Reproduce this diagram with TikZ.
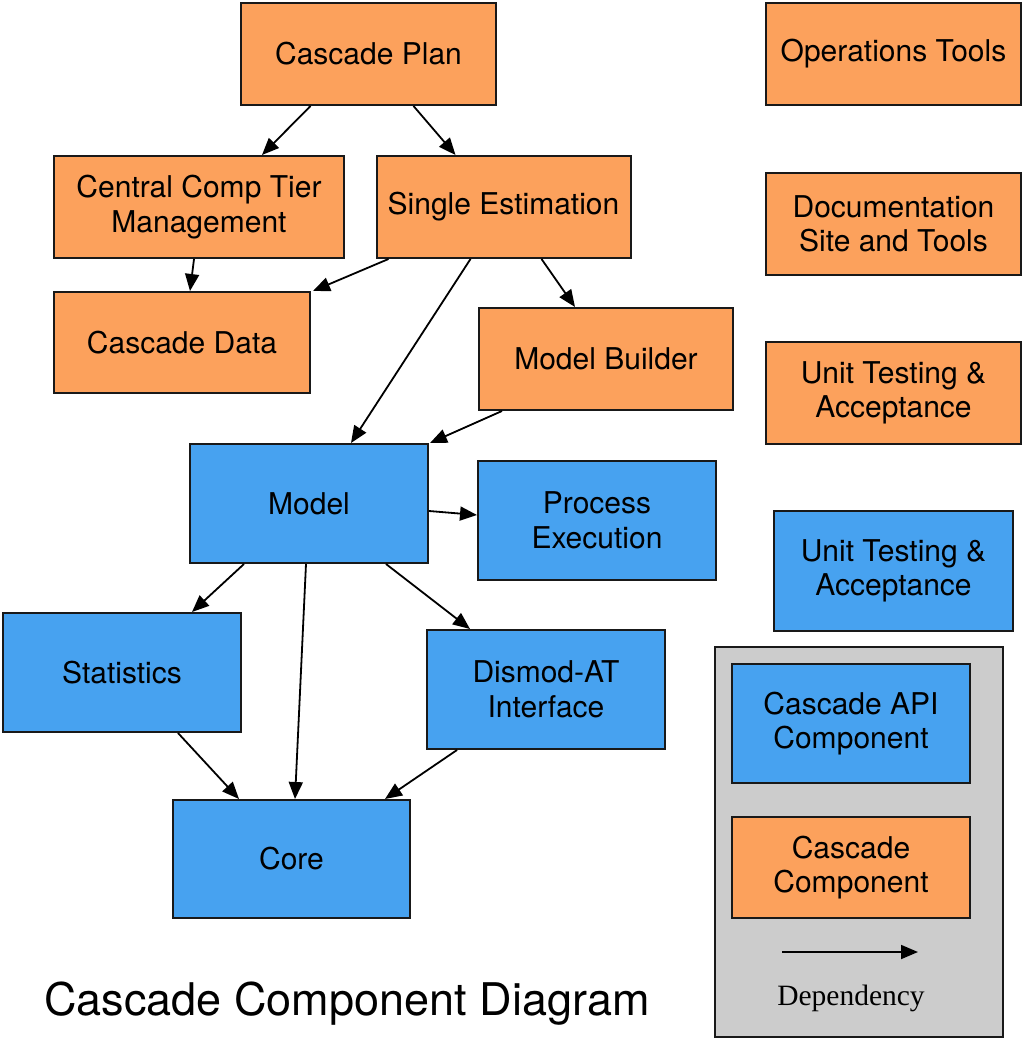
\documentclass[tikz,border=0pt]{standalone}
\usepackage{fontspec}
\setmainfont{TeX Gyre Heros}
\newfontfamily\depfont{Liberation Serif}
\usetikzlibrary{arrows.meta}
\definecolor{orng}{HTML}{FCA15C}
\definecolor{blu}{HTML}{47A2F0}
\definecolor{gry}{HTML}{CCCCCC}
\begin{document}
\begin{tikzpicture}[x=1pt,y=-1pt,
  box/.style={draw=black!90,line width=2pt,align=center,inner sep=0pt,
    font=\fontsize{30}{34.5}\selectfont},
  ob/.style={box,fill=orng,minimum width=255pt,minimum height=102pt},
  bb/.style={box,fill=blu,minimum width=238pt,minimum height=119pt},
  dep/.style={draw=black,line width=1.8pt,-{Triangle[length=17pt,width=14pt]}}]
\useasboundingbox (0,0) rectangle (1024,1043);
% orange components
\node[ob] (plan) at (368.5,54) {Cascade Plan};
\node[ob] (ops) at (893.5,54) {Operations Tools};
\node[ob,minimum width=290pt] (central) at (199,207) {Central Comp Tier\\Management};
\node[ob,minimum width=254pt] (single) at (503.5,207) {Single Estimation};
\node[ob] (doc) at (893.5,224) {Documentation\\Site and Tools};
\node[ob,minimum width=256pt,minimum height=101pt] (data) at (182,342.5) {Cascade Data};
\node[ob,minimum width=254pt] (builder) at (606,359) {Model Builder};
\node[ob] (uto) at (893.5,393) {Unit Testing \&\\Acceptance};
% blue components
\node[bb] (model) at (309,503.5) {Model};
\node[bb] (process) at (597,520.5) {Process\\Execution};
\node[bb,minimum width=239pt,minimum height=120pt] (utb) at (893.5,571) {Unit Testing \&\\Acceptance};
\node[bb] (stats) at (122,672.5) {Statistics};
\node[bb] (dismod) at (546,689.5) {Dismod-AT\\Interface};
\node[bb,minimum width=237pt,minimum height=118pt] (core) at (291.5,859) {Core};
% legend
\node[draw=black!90,line width=2pt,fill=gry,minimum width=288pt,minimum height=390pt,inner sep=0pt] (legend) at (859,842) {};
\node[bb] (api) at (851,723.5) {Cascade API\\Component};
\node[ob,minimum width=238pt,minimum height=101pt] (comp) at (851,867.5) {Cascade\\Component};
\coordinate (la) at (782,952);
\coordinate (lb) at (918,952);
\draw[dep] (la) -- (lb);
\node[font=\depfont\fontsize{29.5}{34}\selectfont] (deplabel) at (851,998) {Dependency};
% title
\node[font=\fontsize{45}{52}\selectfont] (title) at (347,1004) {Cascade Component Diagram};
% dependencies
\draw[dep] ([xshift=-58pt]plan.south) -- ([xshift=63pt]central.north);
\draw[dep] ([xshift=45pt]plan.south) -- ([xshift=-48pt]single.north);
\draw[dep] ([xshift=-5pt]central.south) -- ([xshift=8pt]data.north);
\draw[dep] ([xshift=-115pt]single.south) -- ([xshift=2pt]data.north east);
\draw[dep] ([xshift=-33pt]single.south) -- ([xshift=42pt]model.north);
\draw[dep] ([xshift=38pt]single.south) -- ([xshift=-31pt]builder.north);
\draw[dep] ([xshift=-104pt]builder.south) -- ([xshift=1pt]model.north east);
\draw[dep] ([yshift=-7.5pt]model.east) -- ([yshift=5.5pt]process.west);
\draw[dep] ([xshift=-65pt]model.south) -- ([xshift=70pt]stats.north);
\draw[dep] ([xshift=-3pt]model.south) -- ([xshift=3.5pt]core.north);
\draw[dep] ([xshift=77pt]model.south) -- ([xshift=-76pt]dismod.north);
\draw[dep] ([xshift=56pt]stats.south) -- ([xshift=-52.5pt]core.north);
\draw[dep] ([xshift=-89pt]dismod.south) -- ([xshift=93.5pt]core.north);
\end{tikzpicture}
\end{document}
